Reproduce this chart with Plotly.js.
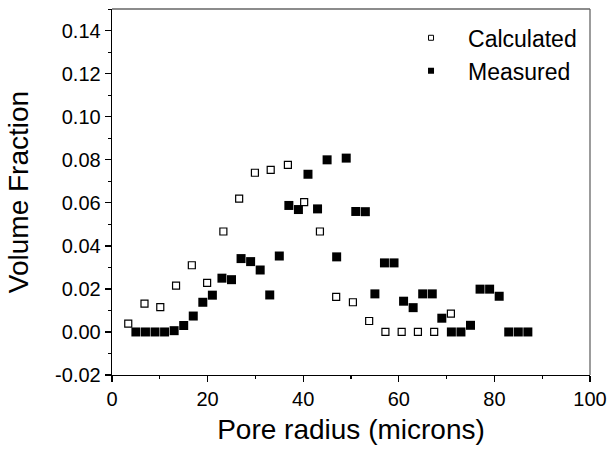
<!DOCTYPE html>
<html>
<head>
<meta charset="utf-8">
<script src="https://cdn.plot.ly/plotly-3.0.1.min.js"></script>
<style>html,body{margin:0;padding:0;background:#fff}#chart{width:609px;height:450px}</style>
</head>
<body>
<div id="chart"></div>
<script>
var calcX = [3.4, 6.8, 10.1, 13.4, 16.7, 19.9, 23.3, 26.6, 29.9, 33.2, 36.8, 40.2, 43.5, 46.9, 50.4, 53.8, 57.2, 60.6, 64.0, 67.4, 70.9];
var calcY = [0.0039, 0.0132, 0.0115, 0.0215, 0.031, 0.0228, 0.0467, 0.062, 0.074, 0.0753, 0.0777, 0.0603, 0.0467, 0.0163, 0.0138, 0.0051, 0, 0, 0, 0, 0.0085];
var measX = [5, 7, 9, 11, 13, 15, 17, 19, 21, 23, 25, 27, 29, 31, 33, 35, 37, 39, 41, 43, 45, 47, 49, 51, 53, 55, 57, 59, 61, 63, 65, 67, 69, 71, 73, 75, 77, 79, 81, 83, 85, 87];
var measY = [0, 0, 0, 0, 0.0006, 0.003, 0.0074, 0.0138, 0.0171, 0.025, 0.0243, 0.0341, 0.0327, 0.0288, 0.0172, 0.0353, 0.0588, 0.0569, 0.0733, 0.0572, 0.080, 0.0349, 0.0808, 0.056, 0.0559, 0.0177, 0.0321, 0.0321, 0.0143, 0.0113, 0.0177, 0.0177, 0.0064, 0, 0, 0.0031, 0.0199, 0.0199, 0.0166, 0, 0, 0];
var yTickVals = [-0.02, 0, 0.02, 0.04, 0.06, 0.08, 0.10, 0.12, 0.14];
var yTickText = ["-0.02", "0.00", "0.02", "0.04", "0.06", "0.08", "0.10", "0.12", "0.14"];
var xTickVals = [0, 20, 40, 60, 80, 100];
var seriesNames = ["Calculated", "Measured"];

var font = "Arial, 'Liberation Sans', sans-serif";
var traces = [
  {x: calcX, y: calcY, mode: "markers", type: "scatter", name: seriesNames[0], showlegend: false,
   marker: {symbol: "square-open", size: 7, color: "#000", line: {width: 1.2, color: "#000"}}},
  {x: measX, y: measY, mode: "markers", type: "scatter", name: seriesNames[1], showlegend: false,
   marker: {symbol: "square", size: 9, color: "#000"}},
  {x: [null], y: [null], mode: "markers", type: "scatter", name: seriesNames[0],
   marker: {symbol: "square-open", size: 5, color: "#000", line: {width: 1, color: "#000"}}},
  {x: [null], y: [null], mode: "markers", type: "scatter", name: seriesNames[1],
   marker: {symbol: "square", size: 6, color: "#000"}}
];
var layout = {
  width: 609, height: 450,
  margin: {l: 112, r: 19, t: 9, b: 75},
  paper_bgcolor: "#fff", plot_bgcolor: "#fff",
  font: {family: font, color: "#000"},
  showlegend: true,
  legend: {x: 0.59, y: 0.98, xanchor: "left", yanchor: "top", font: {size: 23, family: font},
           bgcolor: "rgba(0,0,0,0)", itemwidth: 64, tracegroupgap: 0},
  xaxis: {range: [0, 100], tickvals: xTickVals, ticks: "outside", ticklen: 6, tickwidth: 1.2, tickcolor: "#000",
          minor: {dtick: 10, ticks: "outside", ticklen: 3, tickwidth: 1.2, tickcolor: "#000", showgrid: false},
          showline: true, linecolor: "#000", linewidth: 1.3, showgrid: false, zeroline: false,
          tickfont: {size: 20}, title: {text: "Pore radius (microns)", font: {size: 28}, standoff: 10}},
  yaxis: {range: [-0.02, 0.1501], tickvals: yTickVals, ticktext: yTickText, ticks: "outside", ticklen: 6, tickwidth: 1.2, tickcolor: "#000",
          minor: {dtick: 0.01, tick0: 0, ticks: "outside", ticklen: 3, tickwidth: 1.2, tickcolor: "#000", showgrid: false},
          showline: true, linecolor: "#000", linewidth: 1.3, showgrid: false, zeroline: false,
          tickfont: {size: 20}, title: {text: "Volume Fraction", font: {size: 28}, standoff: 18}},
  shapes: [
    {type: "line", xref: "paper", yref: "paper", x0: 0, x1: 1, y0: 1, y1: 1, line: {color: "#666", width: 1.3}},
    {type: "line", xref: "paper", yref: "paper", x0: 1, x1: 1, y0: 0, y1: 1, line: {color: "#666", width: 1.3}}
  ]
};
Plotly.newPlot("chart", traces, layout, {displayModeBar: false, staticPlot: true});
</script>
</body>
</html>
